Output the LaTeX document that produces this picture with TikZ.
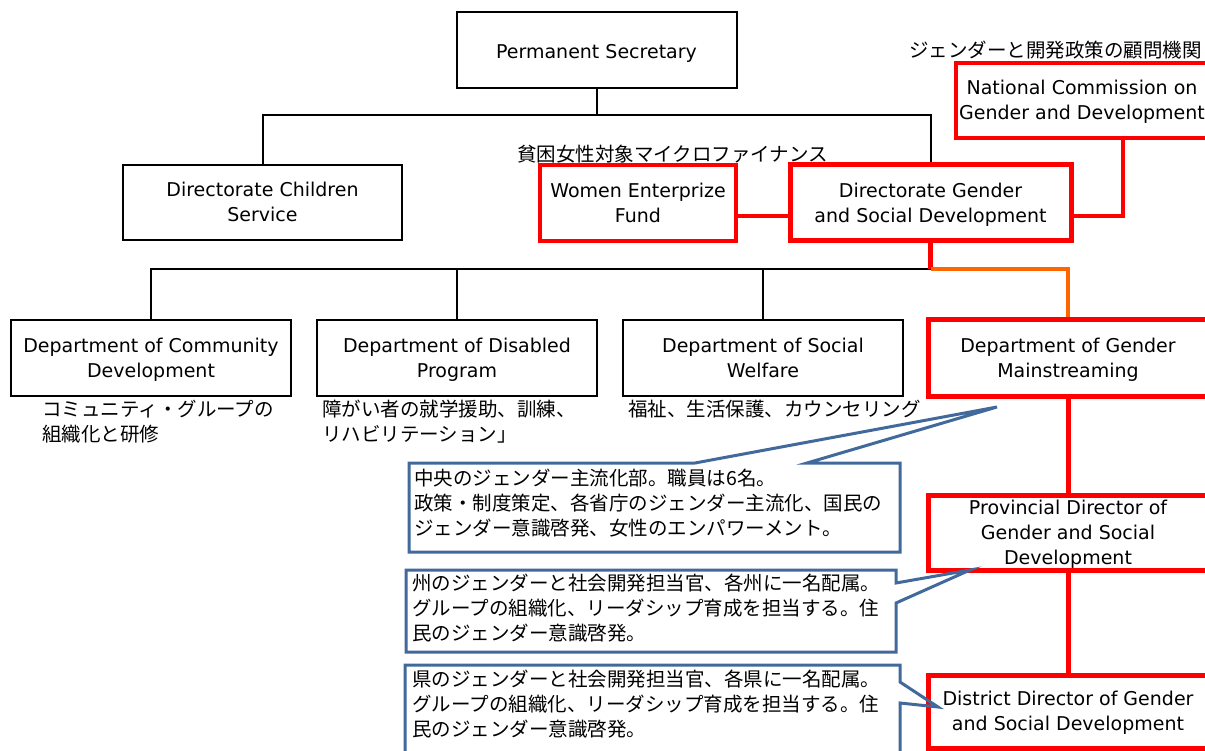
\documentclass[tikz,border=0pt]{standalone}
\usepackage{fontspec}
\setmainfont{DejaVu Sans}
\newfontfamily\jpfont{Noto Sans CJK JP}
\usetikzlibrary{positioning}
\definecolor{calloutblue}{RGB}{65,105,155}
\definecolor{linkorange}{RGB}{255,102,0}
% fixed line height for the box texts
\newcommand{\lh}{\rule[-5.6pt]{0pt}{25pt}}
\tikzset{
  unit/.style={rectangle, draw, line width=2pt, minimum width=280pt, minimum height=76pt, inner sep=0pt, align=center, font=\fontsize{19}{25}\selectfont},
  redunit/.style={unit, draw=red, line width=5pt},
  note/.style={inner sep=0pt, align=left, font=\jpfont\fontsize{19.5}{25}\selectfont},
  tie/.style={draw, line width=2pt},
  redtie/.style={draw=red, line width=5pt},
  callout/.style={draw=calloutblue, line width=3pt, line join=miter}
}
\begin{document}
\begin{tikzpicture}[x=1pt, y=-1pt]
    \path[use as bounding box] (0,0) rectangle (1205,751);
    \clip (0,0) rectangle (1205,751);

    % top levels
    \node[unit] (Perm) at (596.5,50) {\rule[-4.5pt]{0pt}{26.8pt}Permanent Secretary};
    \node[unit, minimum width=279pt, minimum height=75pt] (Children) at (262.5,202.5) {\lh Directorate Children\\\lh Service};
    \node[redunit, line width=4pt, minimum width=196pt] (Fund) at (638,203) {\lh Women Enterprize\\\lh Fund};
    \node[redunit, minimum width=281pt] (Gender) at (930.5,203) {\lh Directorate Gender\\\lh and Social Development};
    \node[redunit, line width=4pt, minimum width=252pt, minimum height=75pt] (Commission) at (1082,100.5) {\lh National Commission on\\\lh Gender and Development};
    \node[note, anchor=east] (CommissionNote) at (1202,50) {ジェンダーと開発政策の顧問機関};
    \node[note, anchor=west] (FundNote) at (517,154) {貧困女性対象マイクロファイナンス};

    % departments
    \node[unit] (Community) at (151,358) {\lh Department of Community\\\lh Development};
    \node[unit] (Disabled) at (457,358) {\lh Department of Disabled\\\lh Program};
    \node[unit] (Welfare) at (763,358) {\lh Department of Social\\\lh Welfare};
    \node[redunit] (Mainstream) at (1068,358) {\lh Department of Gender\\\lh Mainstreaming};
    \node[note, anchor=north west] (CommunityNote) at (42,400) {コミュニティ・グループの\\組織化と研修};
    \node[note, anchor=north west] (DisabledNote) at (322,400) {障がい者の就学援助、訓練、\\リハビリテーション」};
    \node[note, anchor=north west] (WelfareNote) at (628,400) {福祉、生活保護、カウンセリング};

    % local levels
    \node[redunit, minimum height=75pt] (Province) at (1068,533) {\lh Provincial Director of\\\lh Gender and Social\\\lh Development};
    \node[redunit, minimum height=73pt] (District) at (1068,711.5) {\lh District Director of Gender\\\lh and Social Development};

    % connectors
    \coordinate (TopBar) at (596.5,115);
    \coordinate (DeptBar) at (930.5,269);
    \draw[tie] (Perm.south) -- (TopBar);
    \draw[tie] (Children.north) |- (TopBar) -| (Gender.north);
    \draw[tie] (Community.north) |- (DeptBar);
    \draw[tie] (Disabled.north) -- (Disabled.north |- DeptBar);
    \draw[tie] (Welfare.north) -- (Welfare.north |- DeptBar);
    \draw[redtie] (Gender.south) -- (DeptBar);
    \draw[draw=linkorange, line width=4pt] (DeptBar) -| (Mainstream.north);
    \draw[redtie, line width=4pt] ([yshift=-13pt] Fund.east) -- ([yshift=-13pt] Gender.west);
    \draw[redtie, line width=4pt] ([yshift=-13pt] Gender.east) -| ([xshift=41pt] Commission.south);
    \draw[redtie] (Mainstream.south) -- (Province.north);
    \draw[redtie] (Province.south) -- (District.north);

    % callouts
    \draw[callout] (409,463) -- (695,463) -- (997,407) -- (807,463) -- (900,463) -- (900,552) -- (409,552) -- cycle;
    \node[note, anchor=north west] (MainstreamNote) at (414,469) {中央のジェンダー主流化部。職員は6名。\\政策・制度策定、各省庁のジェンダー主流化、国民の\\ジェンダー意識啓発、女性のエンパワーメント。};
    \draw[callout] (406,570) -- (896,570) -- (896,583) -- (970,570) -- (896,603) -- (896,652) -- (406,652) -- cycle;
    \node[note, anchor=north west] (ProvinceNote) at (412,574) {州のジェンダーと社会開発担当官、各州に一名配属。\\グループの組織化、リーダシップ育成を担当する。住\\民のジェンダー意識啓発。};
    \draw[callout] (405,665) -- (900,665) -- (900,682) -- (938,707) -- (900,703) -- (900,770) -- (405,770) -- cycle;
    \node[note, anchor=north west] (DistrictNote) at (412,670) {県のジェンダーと社会開発担当官、各県に一名配属。\\グループの組織化、リーダシップ育成を担当する。住\\民のジェンダー意識啓発。};
\end{tikzpicture}
\end{document}
